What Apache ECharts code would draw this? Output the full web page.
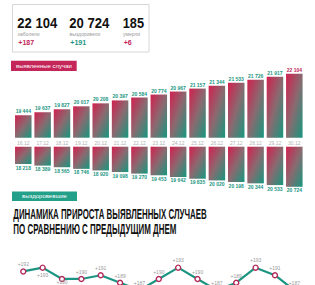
<!DOCTYPE html>
<html>
<head>
<meta charset="utf-8">
<script src="https://cdn.jsdelivr.net/npm/echarts@6/dist/echarts.min.js"></script>
<style>
html,body{margin:0;padding:0;background:#fff;}
#c{width:315px;height:285px;}
</style>
</head>
<body>
<div id="c"></div>
<script>
const dates = ['16.12','17.12','18.12','19.12','20.12','21.12','22.12','23.12','24.12','25.12','26.12','27.12','28.12','29.12','30.12'];
const cases = [19444, 19637, 19827, 20017, 20208, 20397, 20584, 20774, 20967, 21157, 21344, 21533, 21726, 21917, 22104];
const recovered = [18218, 18389, 18565, 18746, 18920, 19098, 19270, 19453, 19642, 19835, 20020, 20198, 20344, 20533, 20724];
const growth = [192, 193, 190, 190, 191, 189, 187, 190, 193, 190, 187, 189, 193, 191, 187];
const summaryValues = ['22 104', '20 724', '185'];
const summaryLabels = ['заболели', 'выздоровели', 'умерли'];
const summaryDeltas = ['+187', '+191', '+6'];
const sectionLabels = ['выявленные случаи', 'выздоровевшие'];
const titleLines = ['ДИНАМИКА ПРИРОСТА ВЫЯВЛЕННЫХ СЛУЧАЕВ', 'ПО СРАВНЕНИЮ С ПРЕДЫДУЩИМ ДНЕМ'];

const CRIMSON = '#c4265a';
const TEAL = '#1b9582';
const fmt = v => String(v).replace(/\B(?=(\d{3})+(?!\d))/g, ' ');

const mctx = document.createElement('canvas').getContext('2d');
function fitScale(text, font, w) {
  mctx.font = font;
  return w / mctx.measureText(text).width;
}

const barGrad = new echarts.graphic.LinearGradient(0, 0, 1, 1, [
  {offset: 0, color: '#d1204f'},
  {offset: 0.5, color: '#8a6a70'},
  {offset: 1, color: '#15977f'}
]);

const numFont = 'bold 15px "Liberation Sans"';
const numX = [17.3, 69.3, 122.7];
const numW = [40, 40, 21.3];
const deltaColors = [CRIMSON, TEAL, CRIMSON];
const graphics = [
  {type: 'rect', shape: {x: 12.5, y: 4.5, width: 136.5, height: 47.5}, style: {fill: '#fff', stroke: '#d6d6d6', lineWidth: 1}},
];
summaryValues.forEach((t, i) => {
  graphics.push({type: 'text', x: numX[i], y: 23, scaleX: fitScale(t, numFont, numW[i]),
    style: {text: t, font: numFont, fill: '#111', textAlign: 'left', textVerticalAlign: 'middle'}});
  graphics.push({type: 'text', x: numX[i] + 0.3, y: 34,
    style: {text: summaryLabels[i], font: '5px "Liberation Sans"', fill: '#999', textAlign: 'left', textVerticalAlign: 'middle'}});
  graphics.push({type: 'text', x: numX[i] + 1, y: 42.3,
    style: {text: summaryDeltas[i], font: 'bold 7px "Liberation Sans"', fill: deltaColors[i], textAlign: 'left', textVerticalAlign: 'middle'}});
});
graphics.push({type: 'rect', shape: {x: 11, y: 60.7, width: 65.7, height: 10.3}, style: {fill: CRIMSON}});
graphics.push({type: 'text', x: 43.9, y: 66, style: {text: sectionLabels[0], font: '6px "Liberation Sans"', fill: '#fff', textAlign: 'center', textVerticalAlign: 'middle'}});
graphics.push({type: 'rect', shape: {x: 12, y: 191.5, width: 65, height: 9.5}, style: {fill: '#22a08a'}});
graphics.push({type: 'text', x: 44.5, y: 196.4, style: {text: sectionLabels[1], font: '6px "Liberation Sans"', fill: '#fff', textAlign: 'center', textVerticalAlign: 'middle'}});
const titleFont = 'bold 14px "Liberation Sans"';
const titleW = [193.4, 163.4];
const titleY = [214, 229];
titleLines.forEach((t, i) => {
  graphics.push({type: 'text', x: 13.3, y: titleY[i], scaleX: fitScale(t, titleFont, titleW[i]),
    style: {text: t, font: titleFont, fill: '#111', textAlign: 'left', textVerticalAlign: 'middle'}});
});

const gl = 13.6, gw = 290.4;
const chart = echarts.init(document.getElementById('c'), null, {renderer: 'svg'});
const hiddenY = (idx, min, max, inverse) => ({gridIndex: idx, type: 'value', min, max, inverse: !!inverse, show: false});
const catX = (idx, showLabel) => ({
  gridIndex: idx, type: 'category', data: dates, boundaryGap: true,
  axisLine: {show: false}, axisTick: {show: false}, splitLine: {show: false},
  axisLabel: {show: showLabel, fontSize: 5, color: '#b0b0b0', margin: 2.5, fontFamily: 'Liberation Sans'}
});
chart.setOption({
  animation: false,
  graphic: graphics,
  grid: [
    {left: gl, width: gw, top: 67.7, height: 70},
    {left: gl, width: gw, top: 146.7, height: 42.6},
    {left: gl, width: gw, top: 241.3, height: 43.7}
  ],
  xAxis: [catX(0, true), catX(1, false), catX(2, false)],
  yAxis: [hiddenY(0, 18000, 22500), hiddenY(1, 16300, 21000, true), hiddenY(2, 188.4, 200)],
  series: [
    {type: 'bar', xAxisIndex: 0, yAxisIndex: 0, barWidth: 16.5,
      data: cases.map((v, i) => ({value: v, label: i === cases.length - 1 ? {color: CRIMSON} : {}})),
      itemStyle: {color: barGrad},
      label: {show: true, position: 'top', distance: 1.5, fontSize: 5, fontWeight: 'bold', color: TEAL, fontFamily: 'Liberation Sans', formatter: p => fmt(p.value)}},
    {type: 'bar', xAxisIndex: 1, yAxisIndex: 1, barWidth: 16.5, data: recovered,
      itemStyle: {color: barGrad},
      label: {show: true, position: 'bottom', distance: 1, fontSize: 5, fontWeight: 'bold', color: TEAL, fontFamily: 'Liberation Sans', formatter: p => fmt(p.value)}},
    {type: 'line', xAxisIndex: 2, yAxisIndex: 2, clip: false,
      data: growth.map((v, i) => ({value: v, label: (i === 1 || i === 2) ? {position: 'bottom', distance: i === 2 ? -2.8 : 1.5} : {position: 'top'}})),
      lineStyle: {color: TEAL, width: 2.2},
      symbol: 'circle', symbolSize: 5,
      itemStyle: {color: '#fff', borderColor: '#b5285a', borderWidth: 1.4},
      label: {show: true, distance: 1.5, fontSize: 5, color: '#9a9a9a', fontFamily: 'Liberation Sans', formatter: p => '+' + p.value}}
  ]
});
</script>
</body>
</html>
